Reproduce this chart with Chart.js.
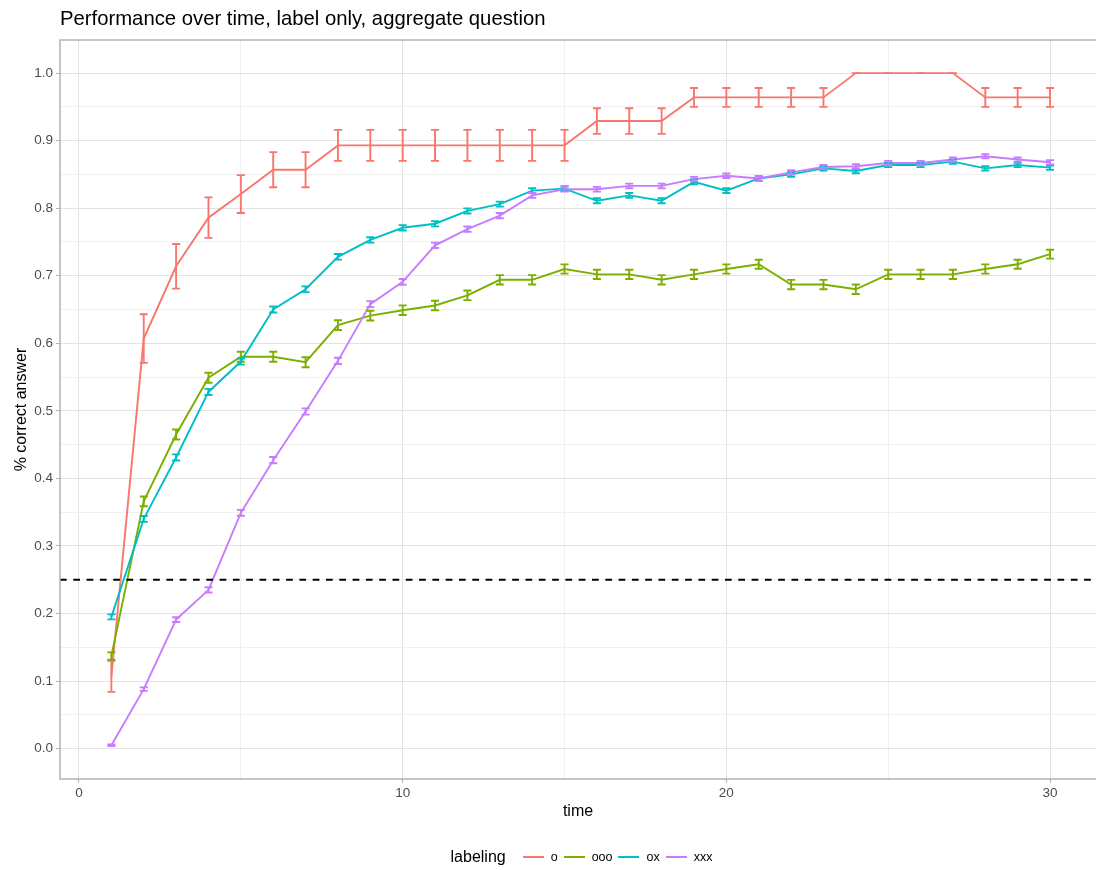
<!DOCTYPE html>
<html>
<head>
<meta charset="utf-8">
<script src="https://cdn.jsdelivr.net/npm/chart.js@4"></script>
<style>
    body { margin: 0; background: #fff; }
    #wrap { position: relative; width: 1096px; height: 870px; font-family: "Liberation Sans", Arial, sans-serif; }
    #title { position: absolute; left: 60px; top: 8px; font-size: 20.3px; line-height: 20px; color: #000; white-space: nowrap; }
    #legend { position: absolute; left: 581.5px; top: 848px; transform: translateX(-50%); display: flex; align-items: center; white-space: nowrap; }
    #legend .ttl { font-size: 16px; color: #000; margin-right: 11px; }
    #legend .key { width: 21px; height: 2px; margin-left: 6px; }
    #legend .key:first-of-type { margin-left: 0; }
    #legend .lab { font-size: 12.5px; color: #000; margin-left: 7px; }
</style>
</head>
<body>
<div id="wrap">
    <canvas id="chart" width="1096" height="870"></canvas>
    <div id="title">Performance over time, label only, aggregate question</div>
    <div id="legend"></div>
</div>
<script>
// Data
const timePoints = [1, 2, 3, 4, 5, 6, 7, 8, 9, 10, 11, 12, 13, 14, 15, 16, 17, 18, 19, 20, 21, 22, 23, 24, 25, 26, 27, 28, 29, 30];
const labelings = ['o', 'ooo', 'ox', 'xxx'];

const oValues = [0.107, 0.607, 0.714, 0.786, 0.821, 0.857, 0.857, 0.893, 0.893, 0.893, 0.893, 0.893, 0.893, 0.893, 0.893,
    0.929, 0.929, 0.929, 0.964, 0.964, 0.964, 0.964, 0.964, 1.0, 1.0, 1.0, 1.0, 0.964, 0.964, 0.964];
const oErrors = [0.023, 0.036, 0.033, 0.030, 0.028, 0.026, 0.026, 0.023, 0.023, 0.023, 0.023, 0.023, 0.023, 0.023, 0.023,
    0.019, 0.019, 0.019, 0.014, 0.014, 0.014, 0.014, 0.014, 0, 0, 0, 0, 0.014, 0.014, 0.014];

const oooValues = [0.137, 0.366, 0.465, 0.549, 0.580, 0.580, 0.572, 0.627, 0.641, 0.649, 0.656, 0.671, 0.694, 0.694, 0.710,
    0.702, 0.702, 0.694, 0.702, 0.710, 0.717, 0.687, 0.687, 0.680, 0.702, 0.702, 0.702, 0.710, 0.717, 0.732];
const oooErrors = [0.0055, 0.0072, 0.0075, 0.0075, 0.0074, 0.0074, 0.0074, 0.0072, 0.0072, 0.0071, 0.0071, 0.0071, 0.0069, 0.0069, 0.0068,
    0.0069, 0.0069, 0.0069, 0.0069, 0.0068, 0.0067, 0.0069, 0.0069, 0.0070, 0.0069, 0.0069, 0.0069, 0.0068, 0.0067, 0.0066];

const oxValues = [0.195, 0.340, 0.431, 0.528, 0.573, 0.650, 0.680, 0.728, 0.753, 0.771, 0.777, 0.796, 0.806, 0.826, 0.829,
    0.811, 0.819, 0.811, 0.839, 0.826, 0.844, 0.850, 0.859, 0.855, 0.864, 0.864, 0.869, 0.859, 0.864, 0.860];
const oxErrors = [0.0037, 0.0044, 0.0046, 0.0046, 0.0046, 0.0044, 0.0043, 0.0042, 0.0040, 0.0040, 0.0039, 0.0038, 0.0037, 0.0036, 0.0035,
    0.0037, 0.0036, 0.0037, 0.0035, 0.0036, 0.0034, 0.0034, 0.0033, 0.0033, 0.0032, 0.0032, 0.0032, 0.0033, 0.0032, 0.0033];

const xxxValues = [0.005, 0.088, 0.191, 0.235, 0.349, 0.427, 0.499, 0.574, 0.658, 0.691, 0.745, 0.769, 0.789, 0.819, 0.828,
    0.828, 0.833, 0.833, 0.843, 0.848, 0.844, 0.853, 0.861, 0.862, 0.867, 0.867, 0.872, 0.877, 0.872, 0.868];
const xxxErrors = [0.0011, 0.0026, 0.0035, 0.0039, 0.0044, 0.0046, 0.0046, 0.0046, 0.0044, 0.0043, 0.0040, 0.0039, 0.0038, 0.0036, 0.0035,
    0.0035, 0.0034, 0.0034, 0.0033, 0.0033, 0.0033, 0.0032, 0.0032, 0.0032, 0.0031, 0.0031, 0.0031, 0.0030, 0.0031, 0.0031];

const chanceLevel = 0.25;

// Axis ticks (major ones get labels, minor ones only grid lines)
const xTicks = [0, 5, 10, 15, 20, 25, 30];
const xMajor = [0, 10, 20, 30];
const yTicks = [0, 0.05, 0.1, 0.15, 0.2, 0.25, 0.3, 0.35, 0.4, 0.45, 0.5, 0.55, 0.6, 0.65, 0.7, 0.75, 0.8, 0.85, 0.9, 0.95, 1.0];
const yMajor = [0, 0.1, 0.2, 0.3, 0.4, 0.5, 0.6, 0.7, 0.8, 0.9, 1.0];

const colors = ['#F8766D', '#7CAE00', '#00BFC4', '#C77CFF'];
const allValues = [oValues, oooValues, oxValues, xxxValues];
const allErrors = [oErrors, oooErrors, oxErrors, xxxErrors];

const fontFamily = '"Liberation Sans", Arial, sans-serif';
const isMajor = (list, v) => list.some(m => Math.abs(m - v) < 1e-9);

// Draw the error bars and the dashed chance line
const errorBarPlugin = {
    id: 'errorBars',
    afterDatasetsDraw(chart) {
        const { ctx, chartArea, scales: { x, y } } = chart;
        ctx.save();
        ctx.beginPath();
        ctx.rect(chartArea.left, chartArea.top, chartArea.width, chartArea.height);
        ctx.clip();
        chart.data.datasets.forEach(ds => {
            ctx.strokeStyle = ds.borderColor;
            ctx.lineWidth = 1.9;
            ds.data.forEach((pt, j) => {
                const px = x.getPixelForValue(pt.x);
                const half = x.getPixelForValue(pt.x + 0.125) - px;
                const top = y.getPixelForValue(pt.y + ds.errors[j]);
                const bot = y.getPixelForValue(pt.y - ds.errors[j]);
                ctx.beginPath();
                ctx.moveTo(px - half, top); ctx.lineTo(px + half, top);
                ctx.moveTo(px, top); ctx.lineTo(px, bot);
                ctx.moveTo(px - half, bot); ctx.lineTo(px + half, bot);
                ctx.stroke();
            });
        });
        const yc = y.getPixelForValue(chanceLevel);
        ctx.strokeStyle = '#000';
        ctx.lineWidth = 1.9;
        ctx.setLineDash([6.7, 6.6]);
        ctx.beginPath();
        ctx.moveTo(chartArea.left, yc);
        ctx.lineTo(chartArea.right, yc);
        ctx.stroke();
        ctx.restore();
    },
    afterDraw(chart) {
        const { ctx, chartArea } = chart;
        ctx.save();
        ctx.strokeStyle = '#b3b3b3';
        ctx.lineWidth = 1.5;
        ctx.beginPath();
        ctx.moveTo(chartArea.right + 2, chartArea.top);
        ctx.lineTo(chartArea.left, chartArea.top);
        ctx.lineTo(chartArea.left, chartArea.bottom);
        ctx.lineTo(chartArea.right + 2, chartArea.bottom);
        ctx.stroke();
        ctx.restore();
    }
};

function buildDatasets() {
    return labelings.map((name, i) => ({
        label: name,
        data: timePoints.map((t, j) => ({ x: t, y: allValues[i][j] })),
        errors: allErrors[i],
        borderColor: colors[i],
        backgroundColor: colors[i],
        borderWidth: 1.9,
        pointRadius: 0,
        tension: 0,
        fill: false,
        order: labelings.length - i
    }));
}

function buildLegend() {
    const legend = document.getElementById('legend');
    let html = '<span class="ttl">labeling</span>';
    labelings.forEach((name, i) => {
        html += `<span class="key" style="background:${colors[i]}"></span><span class="lab">${name}</span>`;
    });
    legend.innerHTML = html;
}

function createChart() {
    const ctx = document.getElementById('chart').getContext('2d');
    new Chart(ctx, {
        type: 'line',
        data: { datasets: buildDatasets() },
        options: {
            responsive: false,
            animation: false,
            events: [],
            layout: { padding: { left: 0, top: 40, right: 0, bottom: 45 } },
            plugins: {
                legend: { display: false },
                tooltip: { enabled: false },
                title: { display: false }
            },
            scales: {
                x: {
                    type: 'linear',
                    min: -0.587,
                    max: 31.42,
                    afterBuildTicks: scale => { scale.ticks = xTicks.map(v => ({ value: v })); },
                    afterFit: scale => { scale.height = 46; },
                    border: { display: false },
                    grid: {
                        color: c => isMajor(xMajor, c.tick.value) ? '#e3e3e3' : '#f0f0f0',
                        lineWidth: 1,
                        tickLength: 4,
                        tickColor: c => isMajor(xMajor, c.tick.value) ? '#b3b3b3' : 'rgba(0,0,0,0)'
                    },
                    ticks: {
                        autoSkip: false,
                        maxRotation: 0,
                        padding: 2,
                        color: '#4d4d4d',
                        font: { family: fontFamily, size: 13.5 },
                        callback: v => isMajor(xMajor, v) ? String(v) : ''
                    },
                    title: {
                        display: true,
                        text: 'time',
                        color: '#000',
                        font: { family: fontFamily, size: 16 },
                        padding: { top: 0, bottom: 3.4 }
                    }
                },
                y: {
                    type: 'linear',
                    min: -0.045,
                    max: 1.049,
                    afterBuildTicks: scale => { scale.ticks = yTicks.map(v => ({ value: v })); },
                    afterFit: scale => { scale.width = 60; },
                    border: { display: false },
                    grid: {
                        color: c => isMajor(yMajor, c.tick.value) ? '#e3e3e3' : '#f0f0f0',
                        lineWidth: 1,
                        tickLength: 4,
                        tickColor: c => isMajor(yMajor, c.tick.value) ? '#b3b3b3' : 'rgba(0,0,0,0)'
                    },
                    ticks: {
                        autoSkip: false,
                        padding: 3,
                        color: '#4d4d4d',
                        font: { family: fontFamily, size: 13.5 },
                        callback: v => isMajor(yMajor, v) ? v.toFixed(1) : ''
                    },
                    title: {
                        display: true,
                        text: '% correct answer',
                        color: '#000',
                        font: { family: fontFamily, size: 16 },
                        padding: { top: 11.5, bottom: 0 }
                    }
                }
            }
        },
        plugins: [errorBarPlugin]
    });
}

buildLegend();
createChart();
</script>
</body>
</html>
